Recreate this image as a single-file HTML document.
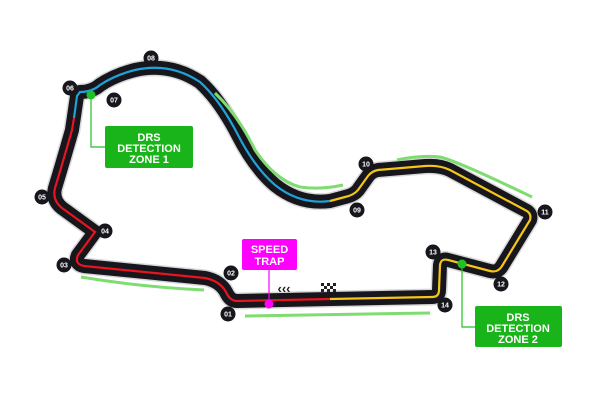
<!DOCTYPE html>
<html><head><style>body{margin:0;background:#fff}svg{display:block}</style></head><body>
<svg width="600" height="400" viewBox="0 0 600 400" xmlns="http://www.w3.org/2000/svg" font-family="Liberation Sans, sans-serif">
<defs>
<path id="trk" d="M237,301 L330,299 L432,297 Q439,297 439,290 L440,265 Q441,258 448,260 L490,271 Q498,273 502,266 L530,220 Q532,213 525,210 L450,170 Q440,165 425,166 L378,170 Q372,171 368,176 L358,190 Q354,195 345,197 L330,201 Q300,205 275,185 Q255,168 238,135 Q220,100 200,82 Q170,62 135,70 Q115,75 100,85 Q92,92 80,92 L77,96 L72,130 Q62,165 55,188 Q52,200 62,208 L95,232 L78,255 Q74,264 84,266 L205,278 Q220,281 226,292 Q230,301 237,301 Z"/>
</defs>
<use href="#trk" fill="none" stroke="#d8d8d8" stroke-width="17" stroke-linejoin="round"/>
<use href="#trk" fill="none" stroke="#16161c" stroke-width="14" stroke-linejoin="round"/>
<path d="M330,299 L432,297 Q439,297 439,290 L440,265 Q441,258 448,260 L490,271 Q498,273 502,266 L530,220 Q532,213 525,210 L450,170 Q440,165 425,166 L378,170 Q372,171 368,176 L358,190 Q354,195 345,197 L330,201" fill="none" stroke="#f5c518" stroke-width="2.2"/>
<path d="M330,201 Q300,205 275,185 Q255,168 238,135 Q220,100 200,82 Q170,62 135,70 Q115,75 100,85 Q92,92 80,92 L77,96 L74,118" fill="none" stroke="#1fa3d6" stroke-width="2.2"/>
<path d="M74,118 L72,130 Q62,165 55,188 Q52,200 62,208 L95,232 L78,255 Q74,264 84,266 L205,278 Q220,281 226,292 Q230,301 237,301 L330,299" fill="none" stroke="#e8141e" stroke-width="2.2"/>
<g fill="none" stroke="#7fdc70" stroke-width="3">
<path d="M215,93 Q238,115 255,150 Q275,180 300,187 Q320,190 343,185"/>
<path d="M397,160 Q420,155 440,157 Q455,160 532,197"/>
<path d="M81,277 Q140,287 204,290"/>
<path d="M245,316 L430,313"/>
</g>
<path d="M91,95 V147 H106" fill="none" stroke="#22c022" stroke-width="1.2"/>
<path d="M462,264 V327 H476" fill="none" stroke="#22c022" stroke-width="1.2"/>
<path d="M269,268 V304" fill="none" stroke="#f0f" stroke-width="1.2"/>
<circle cx="91" cy="95" r="4.5" fill="#22c022"/>
<circle cx="462" cy="264" r="4.5" fill="#22c022"/>
<circle cx="269" cy="304" r="4.5" fill="#f0f"/>
<rect x="105" y="126" width="88" height="42" rx="2" fill="#19b419"/>
<text x="149" y="141" fill="#fff" font-size="11" font-weight="bold" text-anchor="middle">DRS</text>
<text x="149" y="152" fill="#fff" font-size="11" font-weight="bold" text-anchor="middle">DETECTION</text>
<text x="149" y="163" fill="#fff" font-size="11" font-weight="bold" text-anchor="middle">ZONE 1</text>
<rect x="475" y="306" width="87" height="41" rx="2" fill="#19b419"/>
<text x="518" y="321" fill="#fff" font-size="11" font-weight="bold" text-anchor="middle">DRS</text>
<text x="518" y="332" fill="#fff" font-size="11" font-weight="bold" text-anchor="middle">DETECTION</text>
<text x="518" y="343" fill="#fff" font-size="11" font-weight="bold" text-anchor="middle">ZONE 2</text>
<rect x="242" y="239" width="55" height="31" rx="2" fill="#f0f"/>
<text x="269.5" y="253" fill="#fff" font-size="11" font-weight="bold" text-anchor="middle">SPEED</text>
<text x="269.5" y="265" fill="#fff" font-size="11" font-weight="bold" text-anchor="middle">TRAP</text>
<text x="284" y="293" fill="#222" font-size="13" font-weight="bold" text-anchor="middle">‹‹‹</text>
<g fill="#222">
<rect x="321" y="283" width="3" height="3"/><rect x="327" y="283" width="3" height="3"/><rect x="333" y="283" width="3" height="3"/>
<rect x="324" y="286" width="3" height="3"/><rect x="330" y="286" width="3" height="3"/>
<rect x="321" y="289" width="3" height="3"/><rect x="327" y="289" width="3" height="3"/><rect x="333" y="289" width="3" height="3"/>
</g>
<g font-size="7" font-weight="bold" fill="#fff" text-anchor="middle">
<g><circle cx="70" cy="88" r="7.5" fill="#16161c"/><text x="70" y="90.5">06</text></g>
<g><circle cx="114" cy="100" r="7.5" fill="#16161c"/><text x="114" y="102.5">07</text></g>
<g><circle cx="151" cy="58" r="7.5" fill="#16161c"/><text x="151" y="60.5">08</text></g>
<g><circle cx="42" cy="197" r="7.5" fill="#16161c"/><text x="42" y="199.5">05</text></g>
<g><circle cx="105" cy="231" r="7.5" fill="#16161c"/><text x="105" y="233.5">04</text></g>
<g><circle cx="64" cy="265" r="7.5" fill="#16161c"/><text x="64" y="267.5">03</text></g>
<g><circle cx="231" cy="273" r="7.5" fill="#16161c"/><text x="231" y="275.5">02</text></g>
<g><circle cx="228" cy="314" r="7.5" fill="#16161c"/><text x="228" y="316.5">01</text></g>
<g><circle cx="357" cy="210" r="7.5" fill="#16161c"/><text x="357" y="212.5">09</text></g>
<g><circle cx="366" cy="164" r="7.5" fill="#16161c"/><text x="366" y="166.5">10</text></g>
<g><circle cx="545" cy="212" r="7.5" fill="#16161c"/><text x="545" y="214.5">11</text></g>
<g><circle cx="501" cy="284" r="7.5" fill="#16161c"/><text x="501" y="286.5">12</text></g>
<g><circle cx="433" cy="252" r="7.5" fill="#16161c"/><text x="433" y="254.5">13</text></g>
<g><circle cx="445" cy="305" r="7.5" fill="#16161c"/><text x="445" y="307.5">14</text></g>
</g>
</svg>
</body></html>
